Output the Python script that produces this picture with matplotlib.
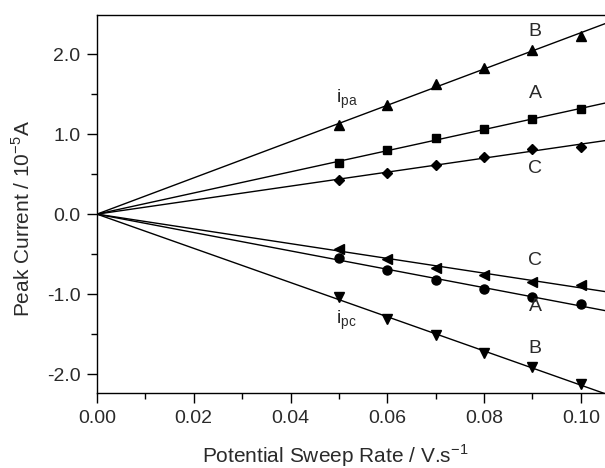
import numpy as np
import matplotlib
matplotlib.use("Agg")
import matplotlib.pyplot as plt
from matplotlib.ticker import MultipleLocator, FormatStrFormatter

plt.rcParams['font.family'] = ['Liberation Sans', 'DejaVu Sans']
plt.rcParams['axes.unicode_minus'] = False
plt.rcParams['mathtext.fontset'] = 'custom'
plt.rcParams['mathtext.rm'] = 'Liberation Sans'

# Scan-Raten (V/s)
sweep_rate = [0.05, 0.06, 0.07, 0.08, 0.09, 0.10]

# anodische Peakströme (10^-5 A)
ipa_B = [1.11, 1.36, 1.63, 1.83, 2.05, 2.23]
ipa_A = [0.64, 0.80, 0.95, 1.06, 1.19, 1.31]
ipa_C = [0.43, 0.52, 0.61, 0.72, 0.82, 0.84]

# kathodische Peakströme (10^-5 A)
ipc_C = [-0.43, -0.56, -0.67, -0.76, -0.85, -0.88]
ipc_A = [-0.55, -0.70, -0.825, -0.93, -1.04, -1.125]
ipc_B = [-1.03, -1.31, -1.51, -1.74, -1.91, -2.12]

serien = [
    (ipa_B, '^', 7), (ipa_A, 's', 6), (ipa_C, 'D', 5.5),
    (ipc_C, '<', 7), (ipc_A, 'o', 6.5), (ipc_B, 'v', 7),
]

fig = plt.figure(figsize=(6.05, 4.68), dpi=100)
ax = fig.add_axes([0.1603, 0.1596, 0.8397, 0.8084])

x = np.array(sweep_rate)
x_line = np.array([0.0, 0.11])
for werte, marker, ms in serien:
    y = np.array(werte)
    # Ausgleichsgerade durch den Ursprung
    steigung = np.sum(x * y) / np.sum(x * x)
    ax.plot(x_line, steigung * x_line, color='black', lw=1.0)
    ax.plot(x, y, marker=marker, ls='none', color='black', ms=ms)

ax.set_xlim(0, 0.105)
ax.set_ylim(-2.24, 2.49)

ax.xaxis.set_major_locator(MultipleLocator(0.02))
ax.xaxis.set_minor_locator(MultipleLocator(0.01))
ax.yaxis.set_major_locator(MultipleLocator(1.0))
ax.yaxis.set_minor_locator(MultipleLocator(0.5))
ax.xaxis.set_major_formatter(FormatStrFormatter('%.2f'))
ax.yaxis.set_major_formatter(FormatStrFormatter('%.1f'))

textfarbe = '#2a2a2a'
ax.tick_params(which='major', direction='out', length=7, width=1, labelsize=14,
               labelcolor=textfarbe, pad=5)
ax.tick_params(which='minor', direction='out', length=4, width=1)
ax.spines['right'].set_visible(False)
for s in ['left', 'bottom', 'top']:
    ax.spines[s].set_linewidth(1.0)

ax.set_xlabel('Potential Sweep Rate / V.s$^{-1}$', fontsize=15, color=textfarbe, labelpad=11)
ax.set_ylabel('Peak Current / 10$^{-5}$A', fontsize=15, color=textfarbe, labelpad=9)
# Achsenbeschriftungen leicht versetzt wie im Original
ax.xaxis.label.set_x(0.4685)
ax.yaxis.label.set_y(0.463)

# Beschriftungen
fs = 14
ax.text(0.0906, 2.28, 'B', fontsize=fs, ha='center', va='center', color=textfarbe)
ax.text(0.0906, 1.51, 'A', fontsize=fs, ha='center', va='center', color=textfarbe)
ax.text(0.0906, 0.575, 'C', fontsize=fs, ha='center', va='center', color=textfarbe)
ax.text(0.0906, -0.575, 'C', fontsize=fs, ha='center', va='center', color=textfarbe)
ax.text(0.0906, -1.16, 'A', fontsize=fs, ha='center', va='center', color=textfarbe)
ax.text(0.0906, -1.68, 'B', fontsize=fs, ha='center', va='center', color=textfarbe)
ax.text(0.0495, 1.43, '$\\mathregular{i_{pa}}$', fontsize=fs, ha='left', va='center', color=textfarbe)
ax.text(0.0495, -1.33, '$\\mathregular{i_{pc}}$', fontsize=fs, ha='left', va='center', color=textfarbe)

fig.savefig('out.png', dpi=100)
